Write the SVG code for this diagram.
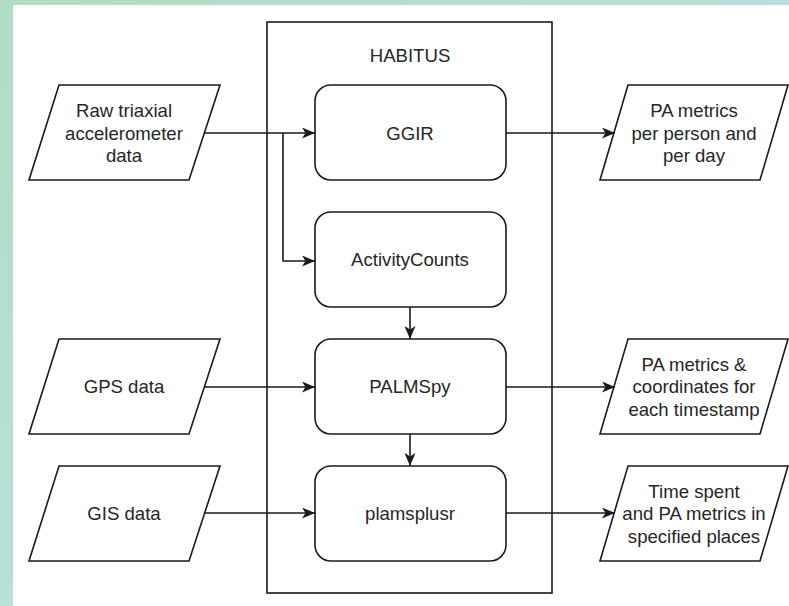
<svg xmlns="http://www.w3.org/2000/svg" width="789" height="606" viewBox="0 0 789 606">
<style>
.shape{fill:#fff;stroke:#1a1a1a;stroke-width:1.6}
.edge{fill:none;stroke:#1a1a1a;stroke-width:1.6}
text{font-family:"Liberation Sans",Arial,sans-serif;font-size:18.6px;fill:#262626;text-anchor:middle}
</style>
<defs>
<linearGradient id="bg" x1="0" y1="0" x2="1" y2="1">
<stop offset="0" stop-color="#b2dcc5"/>
<stop offset="1" stop-color="#bfe3ec"/>
</linearGradient>
<marker id="arr" viewBox="0 0 13 11" refX="13" refY="5.5" markerWidth="13" markerHeight="11" markerUnits="userSpaceOnUse" orient="auto">
<path d="M0,0 L13,5.5 L0,11 L3.5,5.5 Z" fill="#1a1a1a"/>
</marker>
</defs>
<rect x="0" y="0" width="789" height="606" fill="url(#bg)"/>
<rect x="13" y="5" width="776" height="601" fill="#fff"/>

<g id="habitus">
<rect class="shape" x="267" y="22" width="285" height="571"/>
<text x="410" y="62">HABITUS</text>
</g>

<g id="raw">
<polygon class="shape" points="59,85 220,85 189,180 29,180"/>
<text x="124" y="117">Raw triaxial</text>
<text x="124" y="140">accelerometer</text>
<text x="124" y="162">data</text>
</g>
<g id="gps">
<polygon class="shape" points="59,339 220,339 189,434 29,434"/>
<text x="124" y="393">GPS data</text>
</g>
<g id="gis">
<polygon class="shape" points="59,466 220,466 189,561 29,561"/>
<text x="124" y="520">GIS data</text>
</g>

<g id="ggir">
<rect class="shape" x="315" y="85" width="191" height="95" rx="16"/>
<text x="410" y="140">GGIR</text>
</g>
<g id="activitycounts">
<rect class="shape" x="315" y="212" width="191" height="95" rx="16"/>
<text x="410" y="266">ActivityCounts</text>
</g>
<g id="palmspy">
<rect class="shape" x="315" y="339" width="191" height="95" rx="16"/>
<text x="410" y="393">PALMSpy</text>
</g>
<g id="plamsplusr">
<rect class="shape" x="315" y="466" width="191" height="95" rx="16"/>
<text x="410" y="520">plamsplusr</text>
</g>

<g id="out1">
<polygon class="shape" points="628,85 788,85 760,180 600,180"/>
<text x="694" y="117">PA metrics</text>
<text x="694" y="140">per person and</text>
<text x="694" y="162">per day</text>
</g>
<g id="out2">
<polygon class="shape" points="628,339 788,339 760,434 600,434"/>
<text x="694" y="371">PA metrics &amp;</text>
<text x="694" y="393">coordinates for</text>
<text x="694" y="416">each timestamp</text>
</g>
<g id="out3">
<polygon class="shape" points="628,466 788,466 760,561 600,561"/>
<text x="694" y="498">Time spent</text>
<text x="694" y="520">and PA metrics in</text>
<text x="694" y="543">specified places</text>
</g>

<g id="connectors">
<path class="edge" d="M204,133 H315" marker-end="url(#arr)"/>
<path class="edge" d="M283,133 V261 H315" marker-end="url(#arr)"/>
<path class="edge" d="M506,133 H615" marker-end="url(#arr)"/>
<path class="edge" d="M410,307 V339" marker-end="url(#arr)"/>
<path class="edge" d="M410,434 V466" marker-end="url(#arr)"/>
<path class="edge" d="M204,387 H315" marker-end="url(#arr)"/>
<path class="edge" d="M204,513 H315" marker-end="url(#arr)"/>
<path class="edge" d="M506,387 H615" marker-end="url(#arr)"/>
<path class="edge" d="M506,513 H615" marker-end="url(#arr)"/>
</g>
</svg>
